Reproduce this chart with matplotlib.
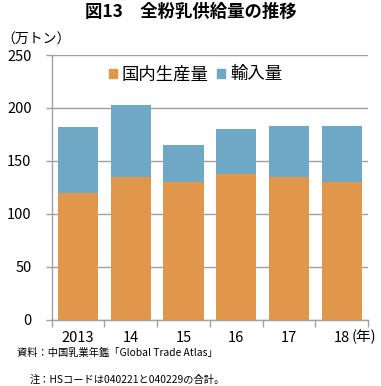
import matplotlib
matplotlib.use("Agg")
import matplotlib.pyplot as plt
import numpy as np
from matplotlib.patches import Patch

plt.rcParams["font.family"] = ["Noto Sans CJK JP", "DejaVu Sans"]

years = ["2013", "14", "15", "16", "17", "18"]
domestic = [120, 135, 130, 138, 135, 130]
imports = [62, 68, 35, 42, 48, 53]
yticks = [0, 50, 100, 150, 200, 250]

ORANGE = "#E0974B"
BLUE = "#6EA8C5"
GRID = "#A0A0A0"

fig = plt.figure(figsize=(3.81, 3.86), dpi=100)
ax = fig.add_axes([0.1357, 0.172, 0.8303, 0.6855])

x = np.arange(len(years))
ax.bar(x, domestic, width=0.76, color=ORANGE, zorder=2)
ax.bar(x, imports, width=0.76, bottom=domestic, color=BLUE, zorder=2)

ax.set_xlim(-0.5, len(years) - 0.5)
ax.set_ylim(0, 250)
ax.set_yticks(yticks)
ax.set_yticklabels([str(v) for v in yticks], fontsize=10.5)
ax.yaxis.grid(True, color=GRID, linewidth=1, zorder=0)
ax.tick_params(axis="y", length=4.5, color=GRID, width=1, pad=10)

ax.set_xticks(x)
ax.set_xticklabels(years, fontsize=10.5)
ax.set_xticks(np.arange(-0.5, len(years)), minor=True)
ax.tick_params(axis="x", which="major", length=0, pad=8)
ax.tick_params(axis="x", which="minor", length=5, color=GRID, width=1)

for s in ["top", "right"]:
    ax.spines[s].set_visible(False)
for s in ["left", "bottom"]:
    ax.spines[s].set_color(GRID)
    ax.spines[s].set_linewidth(1)

handles = [Patch(color=ORANGE, label="国内生産量"), Patch(color=BLUE, label="輸入量")]
ax.legend(handles=handles, loc="upper center", bbox_to_anchor=(0.455, 1.0),
          ncol=2, frameon=False, fontsize=12.5, handlelength=0.45,
          handleheight=0.45, handletextpad=0.3, columnspacing=0.5,
          borderaxespad=0.2)

fig.text(0.5, 0.969, "図13　全粉乳供給量の推移", ha="center", va="center",
         fontsize=12.5, fontweight="bold")
fig.text(0.003, 0.898, "（万トン）", ha="left", va="center", fontsize=10)
fig.text(0.924, 0.127, "(年)", ha="left", va="center", fontsize=10.5)
fig.text(0.045, 0.0855, "資料：中国乳業年鑑「Global Trade Atlas」", ha="left",
         va="center", fontsize=7.4)
fig.text(0.078, 0.0155, "注：HSコードは040221と040229の合計。", ha="left",
         va="center", fontsize=7.4)

fig.savefig("out.png", dpi=100)
